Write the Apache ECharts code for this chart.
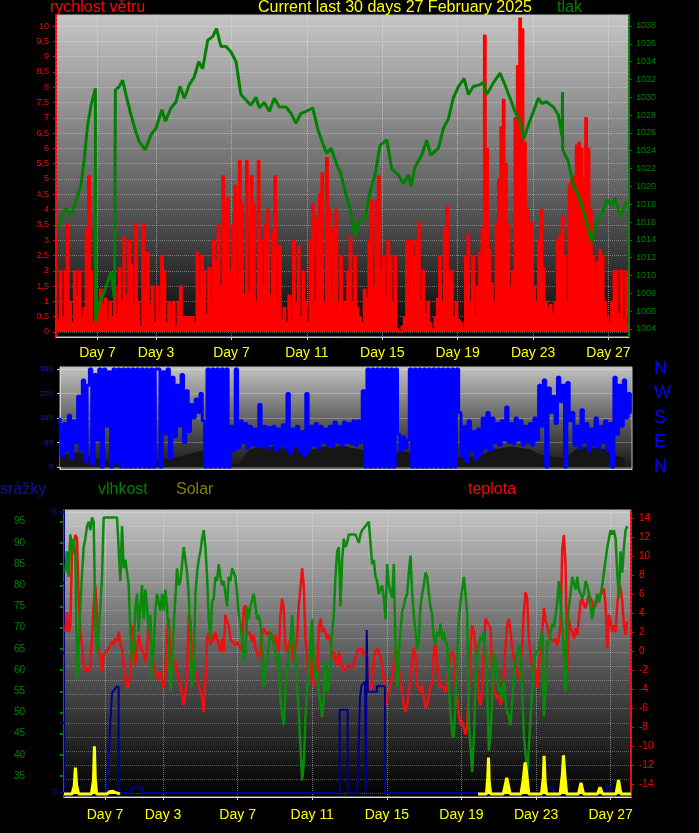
<!DOCTYPE html>
<html><head><meta charset="utf-8">
<script src="https://cdn.jsdelivr.net/npm/echarts@6/dist/echarts.min.js"></script>
<style>html,body{margin:0;padding:0;background:#000;}#c{width:699px;height:833px;}</style>
</head><body><div id="c"></div>
<script>
// ---------- DATA ----------
const tMax = 30.4; // days shown
const dayLabelPos = [2.2, 5.31, 9.31, 13.31, 17.31, 21.31, 25.31, 29.31];
const dayLabelText = ['Day 7','Day 3','Day 7','Day 11','Day 15','Day 19','Day 23','Day 27'];

const windTicks = [0,0.5,1,1.5,2,2.5,3,3.5,4,4.5,5,5.5,6,6.5,7,7.5,8,8.5,9,9.5,10];
const pressureTicks = [1004,1006,1008,1010,1012,1014,1016,1018,1020,1022,1024,1026,1028,1030,1032,1034,1036,1038];
const dirTicks = [0,90,180,270,360];
const compassText = ['N','E','S','W','N'];
const humTicks = [35,40,45,50,55,60,65,70,75,80,85,90,95];
const rainLabelTicks = [0,5];
const rainTicks = [0,1.25,2.5,3.75,5];
const rainGridLines = [0,0.25,0.5,0.75,1,1.25,1.5,1.75,2,2.25,2.5,2.75,3,3.25,3.5,3.75,4,4.25,4.5,4.75,5];
const tempTicks = [-14,-12,-10,-8,-6,-4,-2,0,2,4,6,8,10,12,14];

// wind speed (m/s), one value every 3 hours
const windStepDays = 0.125;
const windSpeed = [
3.0,0.4,2.0,0.5,2.0,3.5,1.0,0.3,2.0,1.2,
2.0,0.5,0.8,3.4,5.1,2.0,0.3,1.4,0.6,1.4,
0.9,1.1,0.4,1.0,0.5,1.5,0.6,2.1,1.0,3.1,
1.2,3.0,2.2,0.8,3.55,1.0,0.2,3.55,1.3,2.6,
0.9,1.5,0.3,1.5,0.6,2.5,2.0,0.3,1.0,0.4,
1.0,0.2,1.0,1.5,0.5,0.5,0.5,0.5,0.5,0.3,
2.6,1.2,2.5,2.0,0.6,2.1,1.0,3.0,2.3,3.5,
1.5,5.1,3.9,4.4,2.0,3.5,4.8,1.5,5.6,4.2,
1.2,5.6,1.3,5.1,4.2,1.0,5.6,3.0,1.5,3.5,
4.0,1.2,3.3,5.1,1.0,2.8,0.4,0.8,0.3,1.2,
0.4,3.0,1.0,2.8,0.5,2.0,1.0,0.3,3.0,4.2,
1.0,3.7,4.5,5.2,1.0,5.7,4.0,1.2,3.4,4.0,
1.0,2.5,0.8,1.0,2.0,3.1,1.0,2.5,0.8,0.5,
0.3,1.4,1.1,3.0,4.3,1.5,4.3,5.1,2.0,2.5,
1.2,3.0,2.5,1.0,2.5,0.1,0.0,0.2,0.5,3.0,
1.2,3.0,2.5,3.0,3.6,1.0,2.0,0.6,1.0,0.3,
0.1,0.5,1.1,2.5,1.0,3.4,4.1,2.0,2.0,0.5,
1.0,0.4,0.3,0.1,2.5,3.2,1.0,2.5,0.5,1.5,
2.6,3.4,9.7,6.0,2.7,1.6,1.0,3.6,5.0,6.7,
7.6,5.5,3.5,1.5,2.0,7.0,8.7,10.25,9.9,6.2,
4.0,3.6,3.6,1.5,1.0,3.0,4.0,2.1,1.0,0.8,
0.9,0.6,1.0,3.0,3.2,3.8,2.5,1.0,4.8,5.0,
5.1,6.1,6.2,6.0,5.0,7.0,6.0,4.0,2.5,1.5,
2.3,2.7,2.5,1.0,0.5,0.3,1.0,2.0,2.0,0.6,
2.0,0.4,2.0,0.5
];
// average wind (m/s), every 12 hours
const avgStepDays = 0.5;
const windAvg = [0.2,0.3,0.3,0.4,0.2,0.3,0.2,0.3,0.4,0.3,0.3,0.4,0.2,0.2,0.1,0.3,0.5,0.8,1.0,1.1,
1.0,1.0,0.7,0.4,0.5,0.6,0.5,0.9,0.9,0.9,0.7,0.6,0.5,0.6,0.5,0.4,0.1,0.4,0.5,0.3,
0.2,0.6,0.5,0.4,0.6,0.5,0.9,1.0,0.8,0.7,0.5,0.7,0.8,0.8,1.2,1.3,1.0,0.6,0.4,0.5,0.4];

// pressure (hPa): [day, value]
const pressure = [
[0.09,1015.3],[0.35,1016.8],[0.53,1017.5],[0.8,1016.8],[1.06,1018.3],[1.33,1020.2],[1.5,1023.1],[1.68,1026.9],[1.86,1029.1],[2.09,1031.0],
[2.1,1004.8],[2.21,1006.3],[2.48,1007.8],[2.74,1009.3],[2.92,1010.4],[3.1,1007.4],[3.15,1030.8],[3.36,1031.2],[3.54,1031.9],[3.71,1030.3],
[3.98,1028.0],[4.24,1026.1],[4.42,1025.0],[4.74,1024.1],[5.04,1025.8],[5.3,1026.5],[5.62,1028.6],[5.8,1027.3],[6.1,1028.8],[6.37,1029.5],
[6.58,1031.2],[6.81,1029.9],[7.07,1031.4],[7.34,1032.3],[7.57,1034.0],[7.78,1033.2],[8.05,1036.4],[8.31,1036.8],[8.52,1037.7],[8.75,1035.7],
[9.02,1035.7],[9.28,1035.1],[9.55,1034.0],[9.81,1030.3],[10.08,1029.7],[10.34,1029.1],[10.61,1030.0],[10.79,1028.8],[11.05,1029.4],[11.32,1028.4],
[11.58,1029.9],[11.85,1028.9],[12.2,1028.9],[12.47,1028.2],[12.73,1027.1],[13.0,1028.2],[13.26,1028.4],[13.62,1028.8],[13.88,1026.5],[14.15,1024.8],
[14.36,1023.7],[14.59,1024.3],[14.94,1022.2],[15.1,1021.5],[15.34,1019.4],[15.6,1017.5],[15.87,1014.4],[16.04,1016.0],[16.4,1016.4],[16.66,1019.4],
[16.93,1021.3],[17.19,1024.6],[17.55,1025.2],[17.81,1022.0],[18.16,1021.3],[18.43,1020.3],[18.7,1021.3],[18.84,1020.0],[19.05,1022.2],[19.4,1023.5],
[19.67,1025.2],[19.88,1023.5],[20.29,1024.3],[20.55,1026.5],[20.82,1027.6],[21.08,1029.9],[21.35,1031.2],[21.65,1032.1],[21.88,1030.3],[22.14,1031.2],
[22.5,1031.4],[22.67,1031.7],[22.85,1030.3],[23.2,1031.6],[23.56,1032.7],[23.82,1031.4],[24.09,1029.9],[24.35,1028.4],[24.62,1027.3],[24.83,1025.4],
[25.06,1026.9],[25.33,1028.4],[25.59,1029.9],[25.77,1029.3],[26.03,1029.5],[26.39,1028.9],[26.65,1028.0],[26.86,1025.5],[26.87,1030.6],[26.88,1024.1],
[27.18,1022.8],[27.45,1020.2],[27.71,1019.0],[27.98,1017.2],[28.24,1015.3],[28.42,1013.8],[28.69,1016.0],[28.95,1016.8],[29.22,1018.5],[29.48,1017.9],
[29.66,1018.7],[29.92,1016.6],[30.28,1018.3]
];

// wind direction (degrees), every 3 hours
const direction = [
180,40,160,60,190,30,170,90,
260,60,320,20,300,
360,10,340,100,360,0,360,150,350,0,360,20,360,
0,360,0,360,0,360,0,360,0,360,0,360,0,360,0,360,
360,0,350,120,360,30,
330,110,300,150,340,90,280,130,
230,180,250,200,270,170,
0,360,0,360,0,360,0,360,0,360,0,
150,60,360,70,170,
90,160,70,150,80,140,75,230,80,150,70,145,85,150,60,140,80,155,70,270,
50,140,80,150,60,130,40,270,60,150,80,160,70,150,90,140,80,150,75,165,
90,150,80,165,90,160,85,170,80,170,90,280,
0,360,0,360,0,360,0,360,0,360,0,360,0,360,
120,60,110,70,100,
360,0,360,0,360,0,360,0,360,0,360,0,360,0,360,0,360,0,360,0,360,
200,40,150,20,170,60,130,30,140,50,180,70,200,60,
180,90,160,80,170,100,220,90,160,85,180,100,170,80,150,90,160,80,180,100,
300,150,320,0,290,200,260,160,330,240,300,0,310,170,
200,80,150,70,210,90,160,60,140,80,180,70,150,90,170,60,160,0,
330,120,300,150,320,180,270,200
];
// dark shade in direction panel, every 12 hours
const dirShade = [50,45,55,40,30,25,30,20,25,30,20,25,35,40,50,60,40,20,15,10,
60,75,70,80,65,75,70,65,75,70,80,70,65,30,25,30,60,55,30,25,
20,25,30,40,35,45,65,70,75,70,65,45,40,35,40,70,75,70,65,40,35];

// humidity (%) and temperature (°C), sampled every ~2.15 hours
const thStartDay = 0.072;
const thStepDays = 0.0894;
const humidity = [
83,88,82,92,88,91,87,58,66,75,83,89,91,94,95,93,96,95,70,64,
69,75,82,96,96,96,96,96,96,96,96,96,96,81,94,84,86,83,80,69,
62,65,75,78,69,75,80,72,79,75,69,73,58,66,74,78,76,74,78,74,
79,75,67,55,61,71,77,84,80,81,85,89,89,83,78,67,56,60,78,83,
86,88,91,93,89,82,72,67,76,77,82,81,85,82,80,81,78,75,82,81,
84,83,82,78,73,71,67,62,64,75,72,75,75,78,75,72,73,71,65,56,
61,62,66,69,68,66,64,61,64,53,53,47,55,60,64,66,73,66,63,56,
50,42,34,38,49,55,60,67,72,61,58,60,55,52,49,53,62,55,56,61,
69,73,82,88,89,75,86,91,89,90,92,92,
92,92,92,91,90,92,93,93,94,94,95,90,85,86,82,81,78,78,80,77,
72,85,80,80,77,85,65,56,64,69,74,75,77,78,83,87,78,73,69,65,
67,75,78,80,83,82,78,75,73,67,66,69,68,71,67,69,67,66,56,50,
45,44,53,63,72,76,79,82,78,73,48,42,36,44,57,64,66,68,67,69,
64,56,41,45,53,64,62,59,55,56,53,58,53,50,49,47,53,58,62,64,
66,65,55,45,40,36,42,49,55,62,64,64,65,67,69,49,55,67,66,69,
71,70,73,76,81,76,71,64,55,70,75,78,82,82,79,82,79,78,77,78,
81,80,78,75,72,75,76,78,76,78,80,83,86,89,91,93,92,93,91,83,
77,88,83,89,93,94
];
const temperature = [
2.0,4.1,2.0,2.7,10.1,11.2,12.2,11.9,5.5,2.0,0.6,-1.5,-2.2,-1.8,-2.2,-1.5,1.3,4.8,6.9,3.8,
-0.1,-0.4,-2.2,-0.4,-0.1,-0.1,0.3,0.6,1.0,0.6,1.3,1.0,2.0,0.6,0.3,-1.5,-2.9,-3.9,-3.6,-2.5,
2.7,1.7,-1.5,0.3,1.7,0.6,0.6,-0.4,-1.1,-0.1,3.8,1.3,-0.1,-1.5,-2.2,-2.9,-2.9,-2.2,-3.2,-3.9,
-2.2,2.0,3.4,-0.4,-2.2,-1.5,-1.1,-2.2,-2.9,-3.6,-4.6,-5.7,-4.6,-2.2,3.8,3.4,-0.8,-1.5,-2.2,-2.9,
-3.6,-4.3,-5.0,-6.4,-3.2,1.3,2.0,0.6,1.7,1.0,2.0,1.3,0.6,-0.1,1.3,-0.1,3.8,3.1,2.7,1.3,
1.0,1.0,0.6,1.0,0.6,0.3,-0.1,4.5,4.8,1.7,2.0,1.7,1.0,1.7,0.3,-0.1,-0.8,-0.1,1.7,2.4,
2.0,1.7,2.0,1.7,1.3,1.0,1.7,0.6,-0.1,3.8,5.5,4.5,0.3,-0.1,0.6,1.3,-0.1,-1.1,0.3,1.3,
4.8,6.6,8.7,6.9,1.3,-0.8,-3.6,0.3,-1.1,-3.6,-2.9,-2.5,2.4,3.4,2.0,2.4,2.0,1.3,1.7,1.0,
-0.8,-0.1,-0.8,-1.5,-0.1,-0.8,-1.8,-2.2,-1.8,-1.8,-1.5,-1.6,
-1.8,-1.5,-0.8,-0.1,0.3,-0.1,0.3,-0.4,-0.1,-1.5,-3.2,-4.3,-3.6,-0.8,-0.1,0.3,-0.1,-0.8,-1.5,-2.9,
-5.7,-5.0,-4.3,-3.6,-2.9,-1.5,0.6,-1.1,-1.8,-3.2,-4.3,-5.7,-6.4,-5.7,-4.3,-2.9,-1.1,0.3,-0.4,-3.6,
-3.9,-4.3,-3.6,-5.0,-6.0,-5.7,-4.6,-3.9,-3.2,-0.1,1.0,-1.5,-3.2,-3.9,-3.6,-3.6,-4.3,-3.6,-1.5,-0.4,
-0.1,-0.4,-3.2,-5.0,-6.7,-7.8,-7.4,-8.1,-8.8,-7.8,-4.3,0.6,2.7,2.0,0.6,-2.2,-5.0,-5.7,-4.3,0.3,
3.4,3.1,2.7,2.4,-2.2,-4.3,-4.6,-5.0,-4.6,-5.7,-5.0,-2.2,0.6,2.7,3.4,2.0,0.3,-0.8,-1.5,-2.2,
-2.9,-1.8,0.6,4.1,6.2,5.5,1.3,-0.4,-1.5,-2.2,-1.8,-3.9,-1.5,-0.4,2.0,4.5,3.1,2.7,1.7,1.3,
1.3,1.0,1.3,0.6,1.3,2.7,10.8,12.2,9.1,-2.2,3.4,2.4,2.0,1.3,2.4,1.7,3.4,5.2,5.5,4.8,
4.5,5.2,5.9,5.5,5.2,4.5,4.8,5.5,5.2,5.9,6.2,6.6,4.8,0.3,3.8,3.1,2.0,2.7,2.0,4.8,
6.9,6.6,5.2,2.7,1.7,3.1
];
// rain (mm): [day, value]
const rain = [
[0,0],[2.27,0],[2.40,0.62],[2.485,1.27],[2.54,1.57],[2.57,1.78],[2.81,1.89],[2.93,1.89],[2.93,0],
[3.61,0],[3.61,0.1],[4.18,0.1],[4.18,0],
[14.78,0],[14.78,1.48],[15.21,1.48],[15.21,0],
[15.70,0],[15.785,0.6],[15.87,1.7],[15.96,1.92],[16.14,1.98],[16.18,1.98],[16.18,0],
[16.23,0],[16.23,2.9],[16.29,1.8],[16.77,1.8],[16.78,1.9],[17.21,1.9],[17.21,0],
[25.76,0],[25.76,0.1],[26.24,0.1],[26.24,0],
[29.1,0],[29.1,0.12],[29.28,0.12],[29.28,0],[30.4,0]
];
// solar (W/m2): [day, value]; null = no solar record
const solar = [
[0,0],[0.43,0],[0.55,15],[0.61,47],[0.68,15],[0.79,0],
[1.47,0],[1.58,25],[1.63,85],[1.68,25],[1.75,0],
[2.3,0],[2.45,4],[2.6,5],[2.75,3],[3.0,0],
[12,null],
[22.2,0],[22.65,0],[22.72,30],[22.76,65],[22.8,20],[22.88,0],
[23.55,0],[23.74,29],[23.92,0],
[24.5,0],[24.62,25],[24.72,56],[24.8,40],[24.92,0],
[25.6,0],[25.7,30],[25.74,68],[25.8,20],[25.88,0],
[26.6,0],[26.72,35],[26.78,69],[26.85,35],[26.95,0],
[27.58,0],[27.72,20],[27.86,0],
[28.6,0],[28.74,12],[28.88,0],
[29.6,0],[29.73,25],[29.86,0],
[30.4,0]
];

// ---------- CHART ----------
const FONT = '"Liberation Sans", Arial, sans-serif';
const chart = echarts.init(document.getElementById('c'), null, {renderer:'canvas'});
const grad = (stops) => new echarts.graphic.LinearGradient(0,0,0,1, stops.map(s=>({offset:s[0],color:s[1]})));
const dayFmt = v => { const k = dayLabelPos.findIndex(p => Math.abs(p - v) < 1e-6); return k >= 0 ? dayLabelText[k] : ''; };
const series1 = (arr, step) => arr.map((v,i)=>[i*step, v]);
const thSeries = arr => arr.map((v,i)=>[thStartDay + i*thStepDays, v]);

const dayXAxis = (gi, margin, lineColor) => ({
  gridIndex: gi, type:'value', min:0, max:tMax, position:'bottom',
  axisLine:{show:true, onZero:false, lineStyle:{color:lineColor, width:1}},
  axisTick:{show:true, customValues:dayLabelPos, length:3, lineStyle:{color:'#cfcfcf'}},
  axisLabel:{show:true, customValues:dayLabelPos, formatter:dayFmt, color:'#ffff00', fontSize:14, fontFamily:FONT, margin:margin},
  splitLine:{show:true, lineStyle:{color:'rgba(255,255,255,0.40)', type:'dotted', width:1}}
});

const option = {
  animation:false,
  backgroundColor:'#000',
  title:[
    {text:'rychlost větru', left:50, top:0, padding:0, textStyle:{color:'#ff0000', fontSize:16, fontWeight:'normal', fontFamily:FONT}},
    {text:'Current last 30 days 27 February 2025', left:258, top:0, padding:0, textStyle:{color:'#ffff00', fontSize:16, fontWeight:'normal', fontFamily:FONT}},
    {text:'tlak', left:557, top:0, padding:0, textStyle:{color:'#008000', fontSize:16, fontWeight:'normal', fontFamily:FONT}},
    {text:'srážky', left:0, top:482, padding:0, textStyle:{color:'#1010a0', fontSize:16, fontWeight:'normal', fontFamily:FONT}},
    {text:'vlhkost', left:98, top:482, padding:0, textStyle:{color:'#008000', fontSize:16, fontWeight:'normal', fontFamily:FONT}},
    {text:'Solar', left:176, top:482, padding:0, textStyle:{color:'#808000', fontSize:16, fontWeight:'normal', fontFamily:FONT}},
    {text:'teplota', left:468, top:482, padding:0, textStyle:{color:'#ff0000', fontSize:16, fontWeight:'normal', fontFamily:FONT}}
  ],
  grid:[
    {left:56, top:15, width:573, height:322, show:true, borderColor:'#bdbdbd', borderWidth:1,
     backgroundColor:grad([[0,'#c6c6c6'],[0.5,'#6a6a6a'],[1,'#050505']])},
    {left:60, top:367, width:572, height:102, show:true, borderColor:'#bdbdbd', borderWidth:1,
     backgroundColor:grad([[0,'#c4c4c4'],[0.55,'#5a5a5a'],[1,'#151515']])},
    {left:64, top:510, width:567, height:287, show:true, borderColor:'#bdbdbd', borderWidth:1,
     backgroundColor:grad([[0,'#c4c4c4'],[0.5,'#5e5e5e'],[1,'#000000']])}
  ],
  xAxis:[
    dayXAxis(0, 9, '#cfcfcf'),
    {gridIndex:1, type:'value', min:0, max:tMax, axisLine:{show:true, onZero:false, lineStyle:{color:'#cfcfcf'}}, axisTick:{show:false}, axisLabel:{show:false}, splitLine:{show:false}},
    dayXAxis(2, 11, '#e6e6b0')
  ],
  yAxis:[
    // 0 wind
    {gridIndex:0, type:'value', position:'left', offset:3, min:-0.163, max:10.36,
     axisLine:{show:true, lineStyle:{color:'#ff0000', type:'dotted', width:2}},
     axisTick:{show:true, customValues:windTicks, length:3, lineStyle:{color:'#ff0000'}},
     axisLabel:{customValues:windTicks, formatter:v=>String(v).replace('.',','), color:'#ff0000', fontSize:9, fontFamily:FONT, margin:4},
     splitLine:{show:true, lineStyle:{color:'rgba(255,255,255,0.35)', type:'dotted'}}},
    // 1 pressure
    {gridIndex:0, type:'value', position:'right', min:1003.1, max:1039.23,
     axisLine:{show:true, lineStyle:{color:'#008000', type:'dotted', width:2}},
     axisTick:{show:true, customValues:pressureTicks, length:3, lineStyle:{color:'#008000'}},
     axisLabel:{customValues:pressureTicks, formatter:v=>String(v), color:'#008000', fontSize:9, fontFamily:FONT, margin:7},
     splitLine:{show:false}},
    // 2 direction
    {gridIndex:1, type:'value', position:'left', min:-7.3, max:367.3,
     axisLine:{show:true, lineStyle:{color:'#cfcfcf'}},
     axisTick:{show:true, customValues:dirTicks, length:3, lineStyle:{color:'#cfcfcf'}},
     axisLabel:{customValues:dirTicks, color:'#1a1ad0', fontSize:8, fontFamily:FONT, margin:7},
     splitLine:{show:true, lineStyle:{color:'rgba(255,255,255,0.25)', type:'solid'}}},
    // 3 compass letters
    {gridIndex:1, type:'value', position:'right', min:-7.3, max:367.3,
     axisLine:{show:false}, axisTick:{show:false, customValues:dirTicks},
     axisLabel:{customValues:dirTicks, formatter:v=>compassText[dirTicks.indexOf(v)], color:'#0000ff', fontSize:18, fontFamily:FONT, margin:22},
     splitLine:{show:false}},
    // 4 humidity
    {gridIndex:2, type:'value', position:'left', offset:32, min:30.07, max:97.76,
     axisLine:{show:true, lineStyle:{color:'#008000', width:2}},
     axisTick:{show:true, customValues:humTicks, length:4, lineStyle:{color:'#008000', width:2}},
     axisLabel:{customValues:humTicks, color:'#008000', fontSize:10, fontFamily:FONT, margin:7},
     splitLine:{show:false}},
    // 5 rain
    {gridIndex:2, type:'value', position:'left', min:-0.071, max:5.036,
     axisLine:{show:true, lineStyle:{color:'#000080', width:1}},
     axisTick:{show:true, customValues:rainTicks, length:4, lineStyle:{color:'#000080', width:2}},
     axisLabel:{customValues:rainLabelTicks, color:'#1010a0', fontSize:9, fontFamily:FONT, margin:7},
     splitLine:{show:false}},
    // 6 temperature
    {gridIndex:2, type:'value', position:'right', min:-15.37, max:14.84,
     axisLine:{show:true, lineStyle:{color:'#ff0000', type:'dotted', width:2}},
     axisTick:{show:true, customValues:tempTicks, length:3, lineStyle:{color:'#ff0000'}},
     axisLabel:{customValues:tempTicks, color:'#ff0000', fontSize:10, fontFamily:FONT, margin:8},
     splitLine:{show:false}},
    // 7 solar (hidden)
    {gridIndex:2, type:'value', show:false, min:-5.3, max:505},
    // 8 grid lines of lower panel
    {gridIndex:2, type:'value', position:'left', min:-0.071, max:5.036,
     axisLine:{show:false}, axisTick:{show:false, customValues:rainGridLines}, axisLabel:{show:false},
     splitLine:{show:true, lineStyle:{color:'rgba(255,255,255,0.30)', type:'dotted'}}}
  ],
  series:[
    {type:'line', xAxisIndex:0, yAxisIndex:0, data:series1(windAvg, avgStepDays), symbol:'none',
     lineStyle:{width:0}, areaStyle:{color:'#000', opacity:1}, z:1},
    {type:'line', xAxisIndex:0, yAxisIndex:0, data:series1(windSpeed, windStepDays), step:'middle', symbol:'none',
     lineStyle:{color:'#ff0000', width:1.5}, areaStyle:{color:'#ff0000', opacity:1}, z:2},
    {type:'line', xAxisIndex:0, yAxisIndex:1, data:pressure, symbol:'none',
     lineStyle:{color:'#008000', width:3}, z:3},
    {type:'line', xAxisIndex:1, yAxisIndex:2, data:series1(dirShade, avgStepDays), symbol:'none',
     lineStyle:{width:0}, areaStyle:{color:'#161616', opacity:1}, z:1},
    {type:'line', xAxisIndex:1, yAxisIndex:2, data:series1(direction, windStepDays), step:'middle', symbol:'none',
     lineStyle:{color:'#0000ff', width:3}, z:2},
    {type:'line', xAxisIndex:2, yAxisIndex:6, data:thSeries(temperature), symbol:'none',
     lineStyle:{color:'#ee1010', width:2.5}, z:2},
    {type:'line', xAxisIndex:2, yAxisIndex:4, data:thSeries(humidity), symbol:'none',
     lineStyle:{color:'#0a8a0a', width:2.5}, z:3},
    {type:'line', xAxisIndex:2, yAxisIndex:5, data:rain, symbol:'none',
     lineStyle:{color:'#000090', width:2}, z:4},
    {type:'line', xAxisIndex:2, yAxisIndex:7, data:solar, symbol:'none', connectNulls:false,
     lineStyle:{color:'#ffff00', width:3}, areaStyle:{color:'#ffff00', opacity:1}, z:5}
  ]
};
chart.setOption(option);
</script>
</body></html>
